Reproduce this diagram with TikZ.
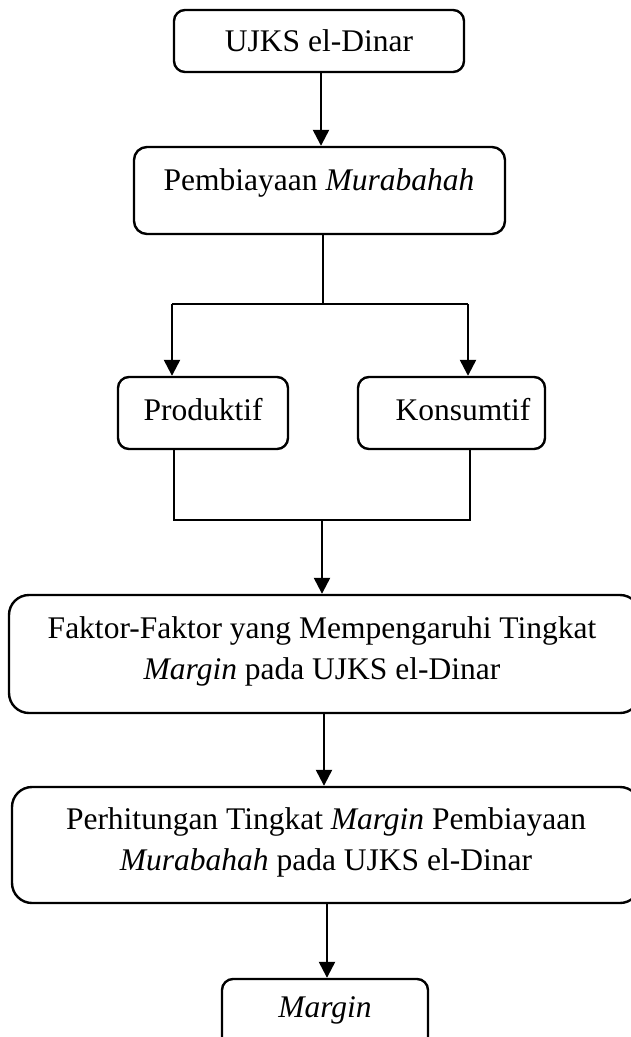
\documentclass[tikz,border=0pt]{standalone}
\usepackage{fontspec}
\setmainfont{Liberation Serif}
\usetikzlibrary{arrows.meta}
\begin{document}
\begin{tikzpicture}[x=1pt,y=-1pt,
  box/.style={draw, line width=2.4pt, inner sep=0pt, rounded corners=#1},
  box/.default=11pt,
  lbl/.style={font=\fontsize{31.5}{41}\selectfont, align=center, inner sep=0pt},
  conn/.style={line width=2.4pt},
  arr/.style={line width=2.4pt, -{Triangle[length=16pt,width=16pt]}}]
\useasboundingbox (0,0) rectangle (630,1037);
% boxes
\node[box, minimum width=290, minimum height=62] (ujks) at (319,41) {};
\node[box=13pt, minimum width=371, minimum height=87] (pemb) at (319.5,190.5) {};
\node[box, minimum width=170, minimum height=72] (prod) at (203,413) {};
\node[box, minimum width=187, minimum height=72] (kons) at (451.5,413) {};
\node[box=20pt, minimum width=631, minimum height=118] (fak) at (324.5,654) {};
\node[box=20pt, minimum width=628, minimum height=116] (perh) at (326,845) {};
\node[box, minimum width=206, minimum height=81] (marg) at (325,1019.5) {};
% texts
\node[lbl] (tujks) at (319,41) {UJKS el-Dinar};
\node[lbl] (tpemb) at (319,183) {Pembiayaan \textit{Murabahah}};
\node[lbl] (tprod) at (203,410) {Produktif};
\node[lbl] (tkons) at (463,410) {Konsumtif};
\node[lbl] (tfak) at (322,651) {Faktor-Faktor yang Mempengaruhi Tingkat\\\textit{Margin} pada UJKS el-Dinar};
\node[lbl] (tperh) at (326,842) {Perhitungan Tingkat \textit{Margin} Pembiayaan\\\textit{Murabahah} pada UJKS el-Dinar};
\node[lbl] (tmarg) at (325,1010) {\textit{Margin}};
% junctions
\coordinate (a1) at (321,0);
\coordinate (s1) at (323,304);
\coordinate (pl) at (172,304);
\coordinate (pr) at (468,304);
\coordinate (ql) at (174,520);
\coordinate (qr) at (470,520);
\coordinate (qm) at (322,520);
\coordinate (a2) at (324,0);
\coordinate (a3) at (327,0);
% connectors
\draw[arr] (a1 |- ujks.south) -- (a1 |- pemb.north);
\draw[conn] (s1 |- pemb.south) -- (s1);
\draw[conn] (pl) -- (pr);
\draw[arr] (pl) -- (pl |- prod.north);
\draw[arr] (pr) -- (pr |- kons.north);
\draw[conn] (ql |- prod.south) -- (ql) -- (qr) -- (qr |- kons.south);
\draw[arr] (qm) -- (qm |- fak.north);
\draw[arr] (a2 |- fak.south) -- (a2 |- perh.north);
\draw[arr] (a3 |- perh.south) -- (a3 |- marg.north);
\end{tikzpicture}
\end{document}
